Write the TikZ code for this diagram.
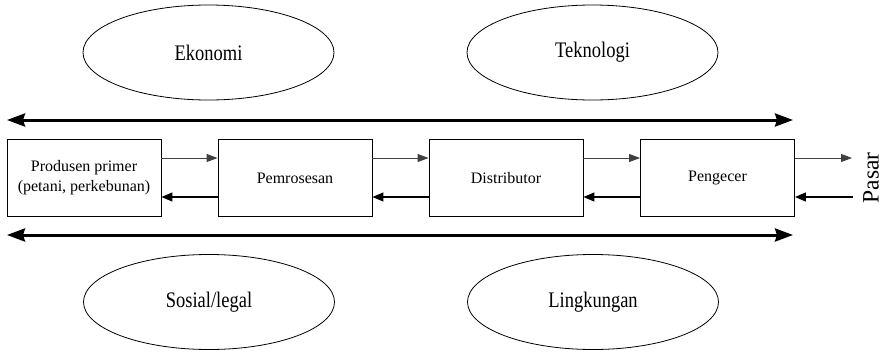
\documentclass[tikz,border=0pt]{standalone}
\usepackage{fontspec}
\setmainfont{Liberation Serif}
\usetikzlibrary{shapes.geometric,arrows.meta}
\newcommand{\tallword}[1]{\scalebox{1}[1.2]{#1}}
\begin{document}
\begin{tikzpicture}[x=1pt,y=-1pt,
  factor/.style={ellipse,draw,line width=0.8pt,minimum width=251pt,minimum height=95pt,inner sep=0pt,font=\fontsize{18.5}{20}\selectfont},
  stage/.style={rectangle,draw,line width=0.9pt,minimum width=154pt,minimum height=77pt,inner sep=0pt,align=center,font=\fontsize{16}{20}\selectfont},
  flow/.style={line width=0.9pt,draw=black!75,-{Triangle[length=11pt,width=8pt]}},
  backflow/.style={line width=1.3pt,-{Triangle[length=11pt,width=9pt]}},
  span/.style={line width=3pt,{Stealth[length=18pt,width=13pt,inset=2pt]}-{Stealth[length=18pt,width=13pt,inset=2pt]}}]
\useasboundingbox (0,0) rectangle (884,351);

% environment factors
\node[factor] (eko) at (208.5,52.5) {\tallword{Ekonomi}};
\node[factor] (tek) at (592.5,52.5) {\tallword{Teknologi}};
\node[factor] (sos) at (209,302) {\tallword{Sosial/legal}};
\node[factor] (lin) at (593,302) {\tallword{Lingkungan}};

% supply chain stages
\node[stage] (prod) at (84,178) {Produsen primer\\(petani, perkebunan)};
\node[stage] (proc) at (295,178) {Pemrosesan};
\node[stage] (dist) at (506,178) {Distributor};
\node[stage] (ret)  at (717.5,178) {Pengecer};

% market
\node[rotate=90,font=\fontsize{23.5}{25}\selectfont,inner sep=0pt] (pasar) at (871,178) {Pasar};
\coordinate (mOut) at (852,158);
\coordinate (mIn) at (853,197);

% wide two-way arrows
\coordinate (tl) at (7,120);
\coordinate (tr) at (793,120);
\coordinate (bl) at (7,235);
\coordinate (br) at (793,235);
\draw[span] (tl) -- (tr);
\draw[span] (bl) -- (br);

% forward flows (upper)
\draw[flow] ([yshift=20pt]prod.east) -- ([yshift=20pt]proc.west);
\draw[flow] ([yshift=20pt]proc.east) -- ([yshift=20pt]dist.west);
\draw[flow] ([yshift=20pt]dist.east) -- ([yshift=20pt]ret.west);
\draw[flow] ([yshift=20pt]ret.east) -- (mOut);

% backward flows (lower)
\draw[backflow] ([yshift=-19pt]proc.west) -- ([yshift=-19pt]prod.east);
\draw[backflow] ([yshift=-19pt]dist.west) -- ([yshift=-19pt]proc.east);
\draw[backflow] ([yshift=-19pt]ret.west) -- ([yshift=-19pt]dist.east);
\draw[backflow] (mIn) -- ([yshift=-19pt]ret.east);
\end{tikzpicture}
\end{document}
